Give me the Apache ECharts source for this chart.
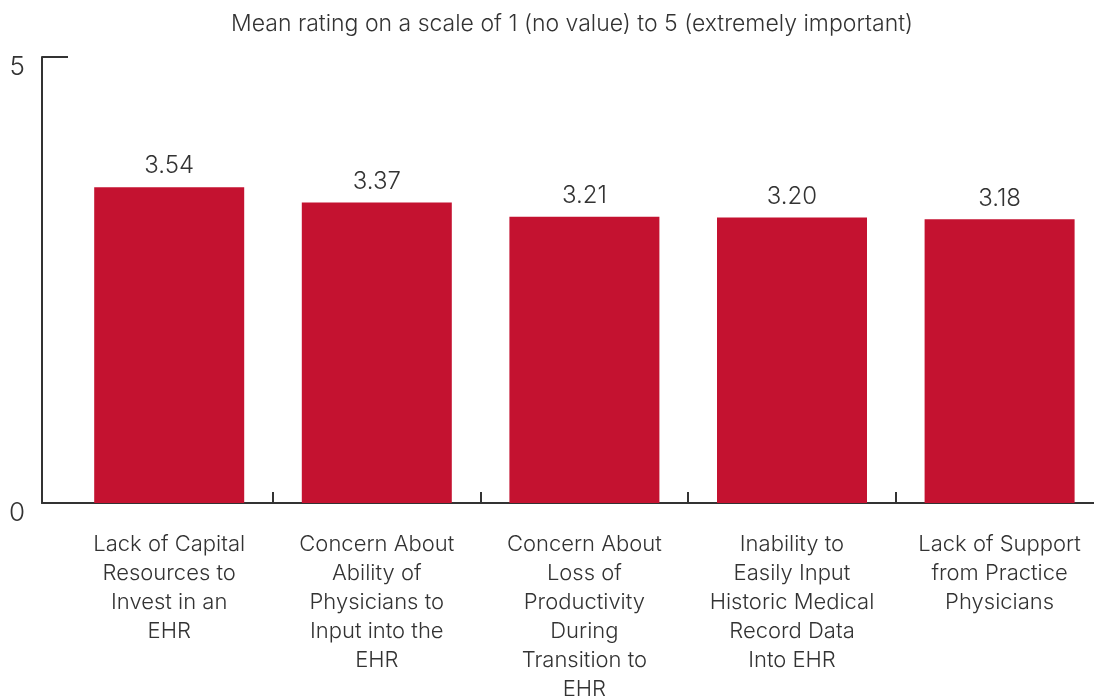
<!DOCTYPE html>
<html>
<head>
<meta charset="utf-8">
<script src="https://cdn.jsdelivr.net/npm/echarts@6/dist/echarts.min.js"></script>
<style>
html,body{margin:0;padding:0;background:#fff;}
#c{width:1094px;height:698px;}
</style>
</head>
<body>
<div id="c"></div>
<script>
const titleText = 'Mean rating on a scale of 1 (no value) to 5 (extremely important)';
const categories = [
  'Lack of Capital\nResources to\nInvest in an\nEHR',
  'Concern About\nAbility of\nPhysicians to\nInput into the\nEHR',
  'Concern About\nLoss of\nProductivity\nDuring\nTransition to\nEHR',
  'Inability to\nEasily Input\nHistoric Medical\nRecord Data\nInto EHR',
  'Lack of Support\nfrom Practice\nPhysicians'
];
const values = [3.54, 3.37, 3.21, 3.20, 3.18];
const yMin = 0, yMax = 5;

const FONT = 'Inter';
const TXT = '#333333';
const LINE = '#333333';
const GL = 65.4;

const chart = echarts.init(document.getElementById('c'));
chart.setOption({
  animation: false,
  title: {
    text: titleText,
    left: 226,
    top: 8,
    textStyle: {fontFamily: FONT, fontWeight: 300, fontSize: 23, color: TXT}
  },
  grid: [
    {left: GL, top: 57, bottom: 195, width: 1038, containLabel: false, outerBoundsMode: 'none'},
    {left: 42, top: 57, bottom: 195, width: GL - 42, containLabel: false, outerBoundsMode: 'none'}
  ],
  xAxis: [
    {
      type: 'category', gridIndex: 0, data: categories,
      axisLine: {show: true, lineStyle: {color: LINE, width: 2}},
      axisTick: {show: true, inside: true, length: 11, interval: (i) => i !== 0, lineStyle: {color: LINE, width: 2}},
      axisLabel: {fontFamily: FONT, fontWeight: 300, fontSize: 22, lineHeight: 29, color: TXT, margin: 27, interval: 0}
    },
    {
      type: 'value', gridIndex: 1, min: 0, max: 1,
      axisLine: {show: true, lineStyle: {color: LINE, width: 2}},
      axisTick: {show: false}, axisLabel: {show: false}, splitLine: {show: false}
    }
  ],
  yAxis: [
    {
      type: 'value', gridIndex: 0, min: yMin, max: yMax, interval: 5, offset: GL - 42,
      axisLine: {show: true, lineStyle: {color: LINE, width: 2}},
      axisTick: {show: true, inside: true, length: 26, lineStyle: {color: LINE, width: 2}},
      axisLabel: {fontFamily: FONT, fontWeight: 300, fontSize: 26, lineHeight: 20, color: TXT, margin: 17, verticalAlign: 'top'},
      splitLine: {show: false}
    },
    {type: 'value', gridIndex: 1, show: false, min: 0, max: 1}
  ],
  series: [{
    type: 'bar', xAxisIndex: 0, yAxisIndex: 0,
    data: values,
    barWidth: 150,
    itemStyle: {color: '#C41230'},
    label: {
      show: true, position: 'top', distance: 9,
      formatter: p => p.value.toFixed(2),
      fontFamily: FONT, fontWeight: 300, fontSize: 24, color: TXT
    }
  }]
});
</script>
</body>
</html>
